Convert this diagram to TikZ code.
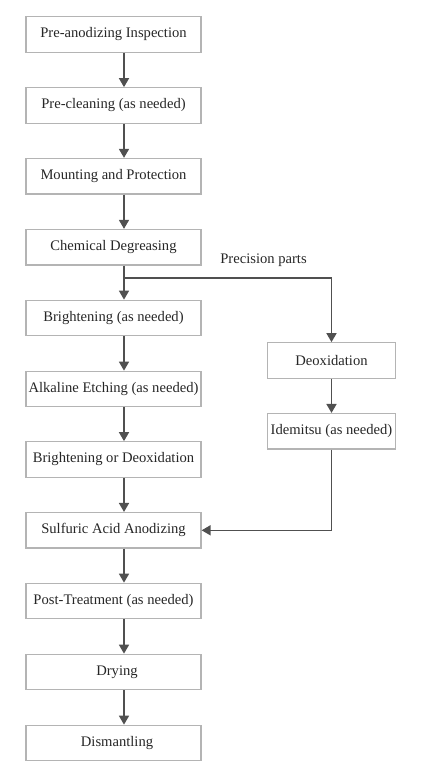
\documentclass[tikz,border=0pt]{standalone}
\usepackage{fontspec}
\setmainfont{Liberation Serif}
\usetikzlibrary{arrows.meta}
\definecolor{boxline}{HTML}{B4B4B4}
\definecolor{arrowc}{HTML}{505050}
\definecolor{txt}{HTML}{262626}
\begin{document}
\begin{tikzpicture}[x=1pt,y=-1pt,
  stepbox/.style={draw=boxline,line width=1.2pt,minimum width=175pt,minimum height=35.5pt,inner sep=0pt,text=txt,font=\fontsize{14.6}{16}\selectfont},
  sidebox/.style={stepbox,minimum width=128pt},
  conn/.style={draw=arrowc,line width=1.6pt,-{Triangle[length=9pt,width=10pt]}}]
\useasboundingbox (0,0) rectangle (420,775);
\node[stepbox] (n1) at (113.5,34.5) {Pre-anodizing Inspection};
\node[stepbox] (n2) at (113.5,105.5) {Pre-cleaning (as needed)};
\node[stepbox] (n3) at (113.5,176.2) {Mounting and Protection};
\node[stepbox] (n4) at (113.5,247.2) {Chemical Degreasing};
\node[stepbox] (n5) at (113.5,318) {Brightening (as needed)};
\node[stepbox] (n6) at (113.5,389) {Alkaline Etching (as needed)};
\node[stepbox] (n7) at (113.5,459.5) {Brightening or Deoxidation};
\node[stepbox] (n8) at (113.5,530.3) {Sulfuric Acid Anodizing};
\node[stepbox] (n9) at (113.5,601) {Post-Treatment (as needed)};
\node[stepbox] (n10) at (113.5,672) {\hspace*{7pt}Drying};
\node[stepbox] (n11) at (113.5,743) {\hspace*{7pt}Dismantling};
\node[sidebox] (d1) at (331.5,360.5) {Deoxidation};
\node[sidebox] (d2) at (331.5,431.3) {Idemitsu (as needed)};
\node[text=txt,font=\fontsize{14.6}{16}\selectfont,inner sep=0pt] (lbl) at (263.5,260.7) {Precision parts};
\coordinate (br) at (124,277.7);
\foreach \a/\b in {n1/n2,n2/n3,n3/n4,n5/n6,n6/n7,n7/n8,n8/n9,n9/n10,n10/n11}{
  \draw[conn] (\a.south -| br) -- (\b.north -| br);
}
\draw[conn] (n4.south -| br) -- (n5.north -| br);
\draw[conn] (br) -| (d1.north);
\draw[conn] (d1) -- (d2);
\draw[conn] (d2.south) |- (n8.east);
\end{tikzpicture}
\end{document}
